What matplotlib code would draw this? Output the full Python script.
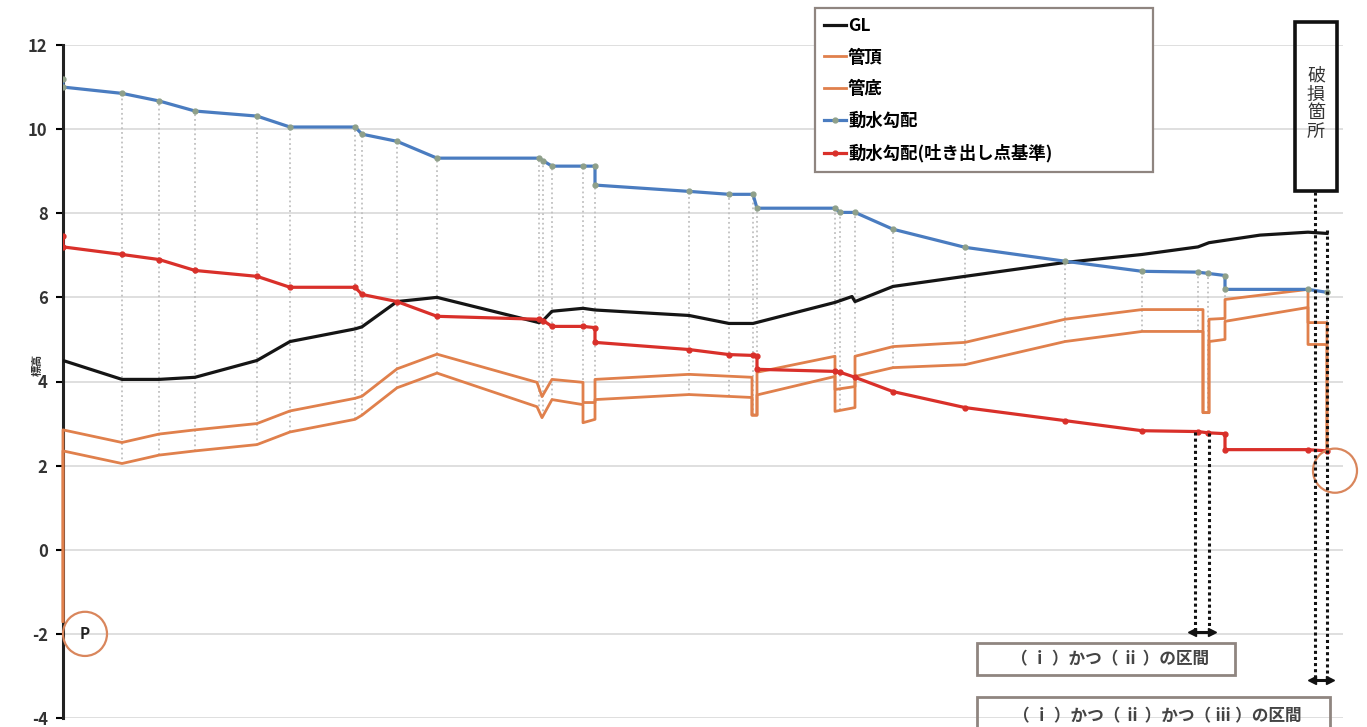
import numpy as np
import matplotlib
matplotlib.use("Agg")
import matplotlib.pyplot as plt
from matplotlib.patches import Rectangle, Ellipse

plt.rcParams['font.family'] = ['Noto Sans CJK JP', 'DejaVu Sans']
plt.rcParams['axes.unicode_minus'] = False

# distance along the pipeline (arbitrary units) and elevations
stations = [59, 96, 132, 194, 227, 292, 299, 334, 374, 476, 480, 489, 520, 532,
            626, 666, 690, 694, 772, 777, 792, 830, 902, 1002, 1079, 1135, 1145,
            1162, 1245, 1264]

gl_x = [0, 59, 96, 132, 194, 227, 292, 299, 334, 374, 476, 480, 489, 520, 532,
        626, 666, 690, 772, 789, 792, 830, 902, 1002, 1079, 1135, 1146, 1197,
        1245, 1264]
gl_y = [4.5, 4.05, 4.05, 4.1, 4.5, 4.95, 5.25, 5.3, 5.9, 6.0, 5.4, 5.45, 5.67,
        5.74, 5.7, 5.57, 5.38, 5.38, 5.88, 6.02, 5.9, 6.26, 6.5, 6.83, 7.02,
        7.2, 7.3, 7.48, 7.55, 7.52]

top_x = [0, 0, 59, 96, 132, 194, 227, 292, 299, 334, 374, 474, 479, 489, 520,
         520, 532, 532, 626, 689, 689, 694, 694, 772, 772, 792, 792, 830, 902,
         1002, 1079, 1140, 1140, 1146, 1146, 1162, 1162, 1245, 1245, 1264, 1264]
top_y = [-1.7, 2.85, 2.55, 2.75, 2.85, 3.0, 3.3, 3.6, 3.65, 4.3, 4.65, 3.98,
         3.64, 4.05, 3.98, 3.5, 3.5, 4.05, 4.17, 4.1, 3.2, 3.2, 4.22, 4.6, 3.81,
         3.88, 4.6, 4.83, 4.93, 5.48, 5.71, 5.71, 3.26, 3.26, 5.48, 5.5, 5.95,
         6.19, 5.4, 5.4, 2.35]

bot_x = top_x
bot_y = [-1.7, 2.35, 2.05, 2.25, 2.35, 2.5, 2.8, 3.1, 3.2, 3.85, 4.2, 3.4,
         3.14, 3.57, 3.45, 3.02, 3.1, 3.57, 3.69, 3.62, 3.2, 3.2, 3.68, 4.12,
         3.29, 3.38, 4.12, 4.33, 4.4, 4.95, 5.19, 5.19, 3.26, 3.26, 4.95, 5.0,
         5.43, 5.76, 4.88, 4.88, 2.35]

hg_x = [0, 0, 59, 96, 132, 194, 227, 292, 299, 334, 374, 476, 480, 489, 520,
        532, 532, 626, 666, 690, 694, 772, 777, 792, 830, 902, 1002, 1079, 1135,
        1145, 1162, 1162, 1245, 1264]
hg_y = [11.2, 11.0, 10.85, 10.67, 10.43, 10.31, 10.05, 10.05, 9.88, 9.71, 9.31,
        9.31, 9.25, 9.12, 9.12, 9.12, 8.67, 8.52, 8.45, 8.45, 8.12, 8.12, 8.02,
        8.02, 7.62, 7.19, 6.86, 6.62, 6.6, 6.57, 6.52, 6.19, 6.19, 6.12]

out_x = [0, 0, 59, 96, 132, 194, 227, 292, 299, 334, 374, 476, 480, 489, 520,
         532, 532, 626, 666, 690, 694, 694, 772, 777, 792, 830, 902, 1002, 1079,
         1135, 1145, 1162, 1162, 1245, 1264]
out_y = [7.45, 7.2, 7.02, 6.9, 6.64, 6.5, 6.24, 6.24, 6.07, 5.9, 5.55, 5.48,
         5.45, 5.31, 5.31, 5.28, 4.93, 4.76, 4.64, 4.62, 4.6, 4.29, 4.24, 4.22,
         4.1, 3.76, 3.38, 3.07, 2.83, 2.81, 2.78, 2.76, 2.38, 2.38, 2.35]

labels = ['GL', '管頂', '管底', '動水勾配', '動水勾配(吐き出し点基準)']
sec1 = [1132, 1146]     # (i) and (ii)
sec2 = [1252, 1264]     # (i), (ii) and (iii)

C_GL = '#151515'
C_PIPE = '#e0804c'
C_HG = '#4a7cc0'
C_OUT = '#d9302a'

fig = plt.figure(figsize=(13.67, 7.27), dpi=100)
ax = fig.add_axes([63/1367, 9/727, 1280/1367, 673/727])
ax.set_xlim(0, 1280)
ax.set_ylim(-4, 12)

ax.set_yticks(np.arange(-4, 13, 2))
ax.yaxis.grid(True, color='#dcdcdc', lw=1.3)
ax.set_axisbelow(True)
ax.set_xticks([])
for s in ['top', 'right', 'bottom']:
    ax.spines[s].set_visible(False)
ax.spines['left'].set_linewidth(2.2)
ax.spines['left'].set_color('#222222')
ax.tick_params(axis='y', length=5, width=1.5, pad=6, labelsize=12,
               labelcolor='#333333')
for t in ax.get_yticklabels():
    t.set_fontweight('bold')

# drop lines at each station
hi = np.interp(stations, hg_x[1:], hg_y[1:])
lo = np.interp(stations, bot_x[1:], bot_y[1:])
ax.vlines(stations, lo, hi, colors='#c0c0c0', linestyles=':', lw=1.3, zorder=1)

ax.plot(gl_x, gl_y, color=C_GL, lw=2.3, label=labels[0], zorder=4)
ax.plot(top_x, top_y, color=C_PIPE, lw=2, label=labels[1], zorder=3, clip_on=False)
ax.plot(bot_x, bot_y, color=C_PIPE, lw=2, label=labels[2], zorder=3, clip_on=False)
ax.plot(hg_x, hg_y, color=C_HG, lw=2.3, marker='o', ms=3.5, mfc='#8fa08a',
        mec='#8fa08a', label=labels[3], zorder=4)
ax.plot(out_x, out_y, color=C_OUT, lw=2.3, marker='o', ms=3.5, label=labels[4],
        zorder=4)

# pump and break point
ax.add_patch(Ellipse((22, -2.0), 44, 1.05, fill=False, ec='#d9865c', lw=1.6,
                     clip_on=False, zorder=5))
ax.text(22, -2.0, 'P', ha='center', va='center', fontsize=11, fontweight='bold',
        color='#222222')
ax.add_patch(Ellipse((1272, 1.88), 44, 1.05, fill=False, ec='#d9865c', lw=1.6,
                     clip_on=False, zorder=5))

# section markers: dotted guides and small double arrows
y_arr1, y_arr2 = -1.95, -3.1
dot = dict(color='#111111', lw=2.2, linestyle=(0, (1, 1)), zorder=6, clip_on=False)
for x in sec1:
    ax.plot([x, x], [np.interp(x, out_x[1:], out_y[1:]), y_arr1], **dot)
ax.plot([sec2[0]] * 2, [8.5, y_arr2], **dot)
ax.plot([sec2[1]] * 2, [7.6, y_arr2], **dot)
for (a, b), yy in [(sec1, y_arr1), (sec2, y_arr2)]:
    ax.plot([a - 3, b + 3], [yy, yy], color='#111111', lw=2.2, zorder=7,
            clip_on=False)
    ax.plot([a - 3], [yy], marker='<', ms=6, color='#111111', zorder=7,
            clip_on=False)
    ax.plot([b + 3], [yy], marker='>', ms=6, color='#111111', zorder=7,
            clip_on=False)

ax.add_patch(Rectangle((914, -2.98), 258, 0.77, fill=False, ec='#8f8580', lw=2,
                       clip_on=False, zorder=6))
ax.text(1047, -2.6, '（ ⅰ ）かつ（ ⅱ ）の区間', ha='center', va='center',
        fontsize=12, fontweight='bold', color='#444444')
ax.add_patch(Rectangle((914, -4.4), 353, 0.9, fill=False, ec='#8f8580', lw=2,
                       clip_on=False, zorder=6))
ax.text(1094, -3.95, '（ ⅰ ）かつ（ ⅱ ）かつ（ ⅲ ）の区間', ha='center',
        va='center', fontsize=12, fontweight='bold', color='#444444', clip_on=False)

ax.add_patch(Rectangle((1232, 8.52), 42, 4.02, fill=False, ec='#111111', lw=2.6,
                       clip_on=False, zorder=6))
ax.text(1253, 10.6, '破\n損\n箇\n所', ha='center', va='center', fontsize=13,
        color='#333333', linespacing=1.05, clip_on=False)

fig.text(37/1367, 1 - 365/727, '標高', rotation=90, ha='center', va='center',
         fontsize=8, fontweight='bold', color='#333333')

leg = ax.legend(loc='upper left', bbox_to_anchor=(815/1367, 1 - 8/727, 338/1367, 0.0),
                bbox_transform=fig.transFigure, mode='expand', borderaxespad=0,
                handlelength=1.3, handletextpad=0.1, labelspacing=0.8,
                borderpad=0.5, fancybox=False, framealpha=1, edgecolor='#8f8580',
                prop={'weight': 'bold', 'size': 12.5})
leg.get_frame().set_linewidth(1.6)

fig.savefig('out.png', dpi=100, facecolor='white')
